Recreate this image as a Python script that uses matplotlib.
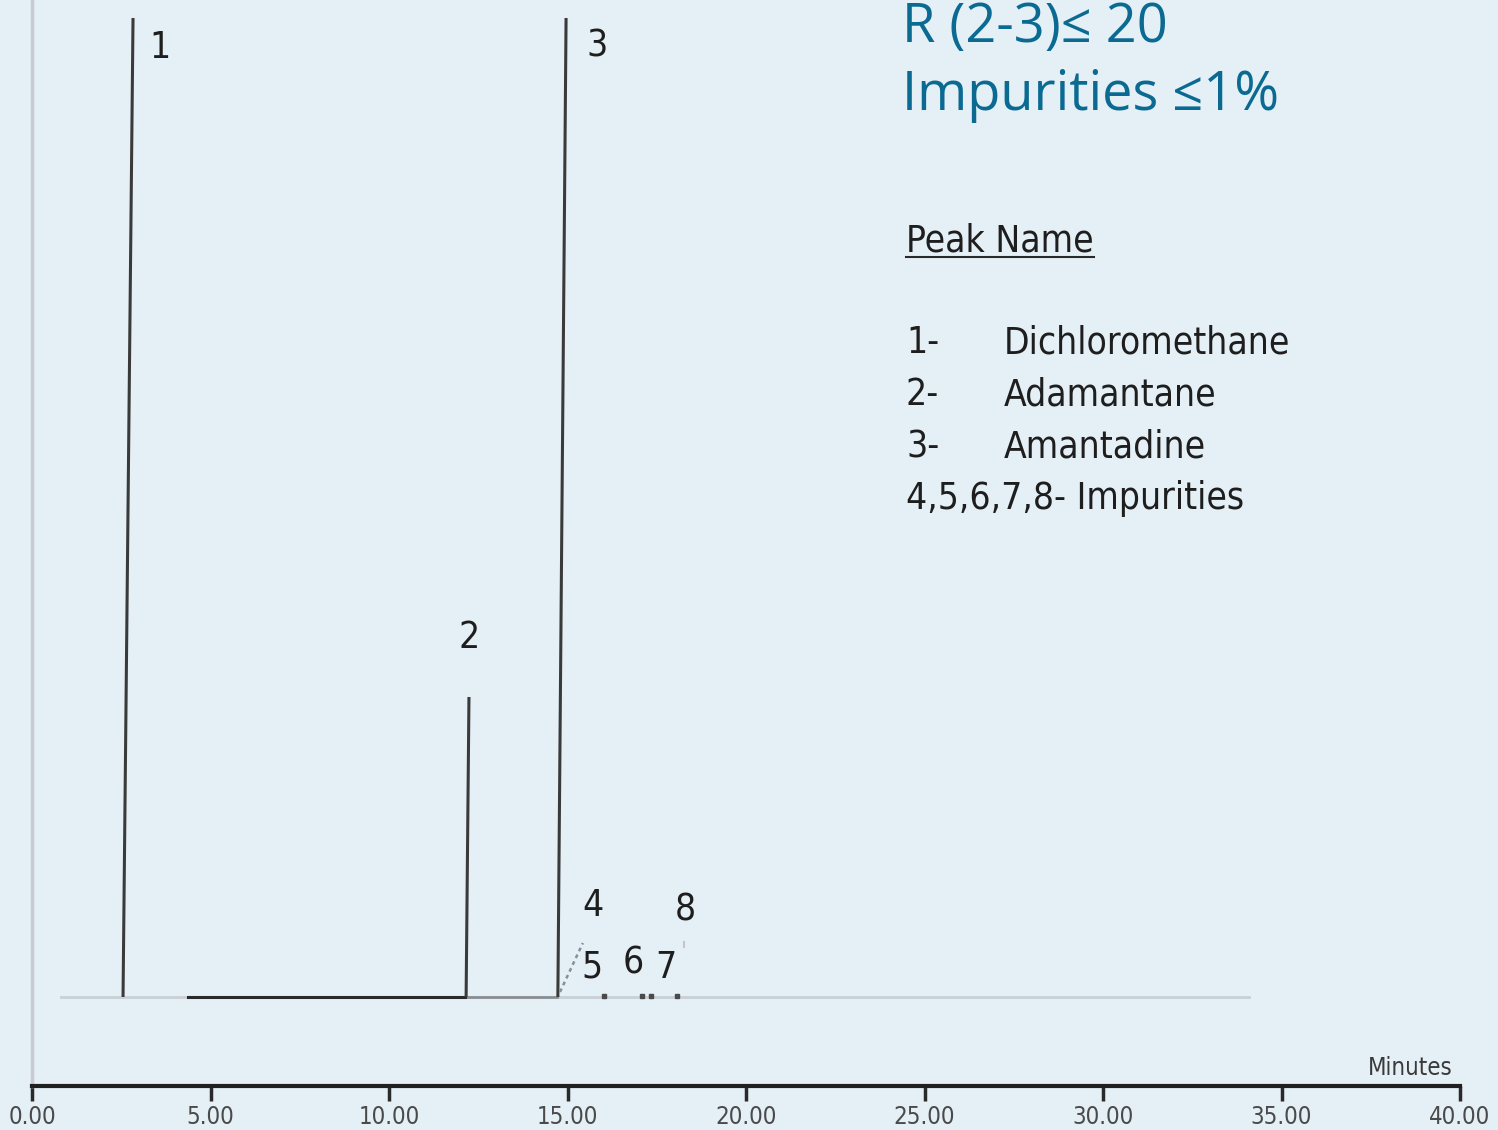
import numpy as np
import matplotlib
matplotlib.use('Agg')
import matplotlib.pyplot as plt
from matplotlib.lines import Line2D
from matplotlib import font_manager as fm

# peak data (minutes, signal)
peak_ids = ['1', '2', '3']
peak_t_base = [2.55, 12.16, 14.73]
peak_t_top = [2.83, 12.24, 14.96]
peak_height = [97.9, 30.0, 97.9]

# small impurity peaks
imp4_t = [14.79, 15.43]
imp4_y = [0.5, 5.4]
imp_marks_t = [16.02, 17.10, 17.35, 18.07]

# peak number labels
label_txt = ['1', '3', '2', '4', '8', '5', '6', '7']
label_t = [3.59, 15.83, 12.24, 15.71, 18.29, 15.69, 16.83, 17.76]
label_y = [94.9, 95.1, 35.9, 9.1, 8.7, 3.0, 3.4, 3.0]

xticks = [0, 5, 10, 15, 20, 25, 30, 35, 40]
xtick_labels = ['0.00', '5.00', '10.00', '15.00', '20.00', '25.00', '30.00', '35.00', '40.00']

legend_num = ['1-', '2-', '3-']
legend_name = ['Dichloromethane', 'Adamantane', 'Amantadine']

bg = '#e4eff6'
W, H = 1498, 1130

# pick a narrow sans if one is there
names = {f.name for f in fm.fontManager.ttflist}
cond_file = fm.findfont(fm.FontProperties(family='DejaVu Sans', stretch='condensed'))
if 'Liberation Sans Narrow' in names:
    nfont = dict(family='Liberation Sans Narrow')
    scale = 1.0
elif 'Condensed' in cond_file:
    nfont = dict(family='DejaVu Sans', stretch='condensed')
    scale = 0.86
else:
    nfont = dict(family='Liberation Sans')
    scale = 0.82
big = 31 * scale
small = 20 * scale

fig = plt.figure(figsize=(W / 100, H / 100), dpi=100, facecolor=bg)
ax = fig.add_axes([32 / W, (H - 1086) / H, (1460 - 32) / W, 1086 / H])
ax.set_facecolor(bg)
ax.set_xlim(0, 40)
ax.set_ylim(-8.9, 99.7)

# baseline, lighter and darker pieces as in the scan
ax.plot([0.8, 34.1], [0, 0], color='#c9d0d6', lw=2, zorder=1)
ax.plot([4.37, 12.13], [0, 0], color='#2a2a2a', lw=2.2, zorder=2)
ax.plot([12.2, 14.7], [0, 0], color='#8a8f94', lw=2, zorder=2)

# main peaks as thin slanted spikes
for tb, tt, h in zip(peak_t_base, peak_t_top, peak_height):
    ax.plot([tb, tt], [0, h], color='#3a3a3a', lw=2.2, solid_capstyle='butt', zorder=3)

# impurities
ax.plot(imp4_t, imp4_y, color='#8a8f94', lw=1.8, ls=(0, (1.5, 1.5)), zorder=3)
ax.plot(imp_marks_t, [0.1] * len(imp_marks_t), ls='none', marker='s', ms=2.5,
        color='#4a4a4a', zorder=3)
ax.plot([18.26, 18.26], [5.0, 5.5], color='#c0c6cc', lw=1.5, zorder=3)

for s, t, y in zip(label_txt, label_t, label_y):
    ax.text(t, y, s, ha='center', va='center', fontsize=big, color='#1e1e1e', **nfont)

# axes styling
for side in ['top', 'right']:
    ax.spines[side].set_visible(False)
ax.spines['left'].set_color('#c8ccd1')
ax.spines['left'].set_linewidth(2.5)
ax.spines['bottom'].set_color('#1f1f1f')
ax.spines['bottom'].set_linewidth(3)
ax.set_yticks([])
ax.set_xticks(xticks)
ax.set_xticklabels(xtick_labels, fontsize=small, color='#4a4a4a', **nfont)
ax.tick_params(axis='x', direction='out', length=11, width=2.5, color='#2a2a2a', pad=3)

fig.text(1453 / W, 1 - 1068 / H, 'Minutes', ha='right', va='center',
         fontsize=small, color='#3a3a3a', **nfont)

# title block
teal = '#0b6a92'
fig.text(902 / W, 1 - 42 / H, 'R (2-3)\u2264 20', ha='left', va='baseline',
         fontsize=39, color=teal, family=['Open Sans', 'DejaVu Sans'])
fig.text(902 / W, 1 - 110 / H, 'Impurities \u22641%', ha='left', va='baseline',
         fontsize=39, color=teal, family=['Open Sans', 'DejaVu Sans'])

# peak name list
pk = fig.text(906 / W, 1 - 252 / H, 'Peak Name', ha='left', va='baseline',
              fontsize=big, color='#1e1e1e', **nfont)
fig.canvas.draw()
bb = pk.get_window_extent()
fig.add_artist(Line2D([bb.x0 / W, bb.x1 / W], [1 - 257 / H, 1 - 257 / H],
                      color='#2a2a2a', lw=1.5))
base_y = [353, 405, 457]
for num, name, y in zip(legend_num, legend_name, base_y):
    fig.text(906 / W, 1 - y / H, num, ha='left', va='baseline',
             fontsize=big, color='#1e1e1e', **nfont)
    fig.text(1004 / W, 1 - y / H, name, ha='left', va='baseline',
             fontsize=big, color='#1e1e1e', **nfont)
fig.text(906 / W, 1 - 509 / H, '4,5,6,7,8- Impurities', ha='left', va='baseline',
         fontsize=big, color='#1e1e1e', **nfont)

fig.savefig('out.png', dpi=100, facecolor=bg)
